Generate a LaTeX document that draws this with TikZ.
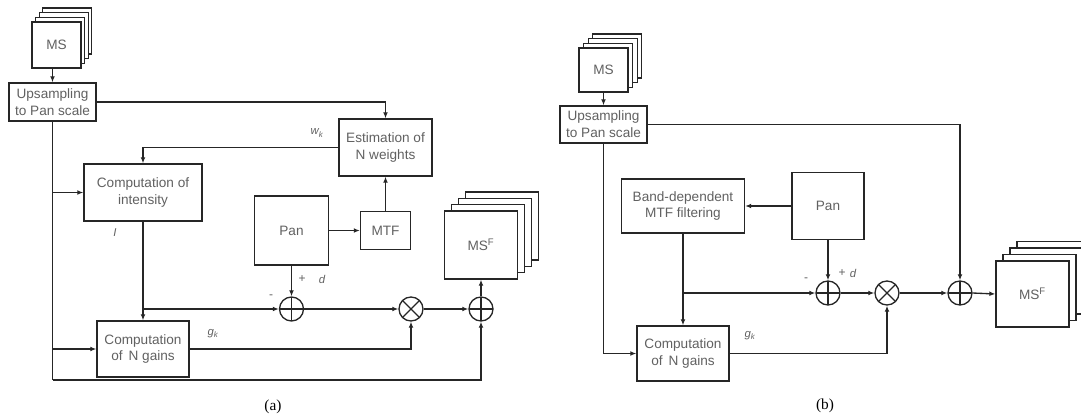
\documentclass[tikz,border=0pt]{standalone}
\usepackage{fontspec}
\setmainfont{Liberation Sans}
\newfontfamily\capfont{Liberation Serif}
\usetikzlibrary{arrows.meta}
\begin{document}
\begin{tikzpicture}[x=0.75pt,y=-0.75pt,
  line/.style={draw=black!85, line width=1pt},
  arr/.style={line, -{Latex[length=4.5pt,width=3.6pt]}},
  box/.style={draw=black!85, line width=1pt, fill=white, inner sep=0pt, align=center,
    text=black!62, font=\fontsize{10.2}{12.6}\selectfont},
  wh/.style 2 args={minimum width=#1*0.75pt, minimum height=#2*0.75pt},
  sum/.style={circle, draw=black!85, line width=1pt, minimum size=18pt, inner sep=0pt,
    path picture={\draw[line width=1pt, black!85]
      (path picture bounding box.north) -- (path picture bounding box.south)
      (path picture bounding box.west) -- (path picture bounding box.east);}},
  mul/.style={circle, draw=black!85, line width=1pt, minimum size=18pt, inner sep=0pt,
    path picture={\draw[line width=1pt, black!85]
      (path picture bounding box.north west) -- (path picture bounding box.south east)
      (path picture bounding box.north east) -- (path picture bounding box.south west);}},
  lbl/.style={text=black!62, font=\fontsize{8.5}{10}\selectfont\itshape, inner sep=0pt},
  captxt/.style={text=black, font=\capfont\fontsize{11.5}{13}\selectfont, inner sep=0pt}
]
\useasboundingbox (0,0) rectangle (1081,418);

% ================= (a) =================
\foreach \k in {3,2,1}
  \node[box, wh={49}{46}] (msa\k) at (56.5+3.6*\k, 45-4.7*\k) {};
\node[box, wh={49}{46}] (msa) at (56.5,45) {MS};
\node[box, wh={87}{38}] (upa) at (52.5,102) {Upsampling\\to Pan scale};
\node[box, wh={93}{57}] (est) at (385.5,147.5) {Estimation of\\N weights};
\node[box, wh={118}{57}] (int) at (143,192.5) {Computation of\\intensity};
\node[box, wh={74}{69}] (pana) at (291.5,230.5) {Pan};
\node[box, wh={50}{38}] (mtf) at (385.5,230.5) {MTF};
\node[box, wh={92}{56}] (gna) at (143,349) {Computation\\of\, N gains};
\node[sum] (add1a) at (291.5,309) {};
\node[mul] (mula) at (411,309) {};
\node[sum] (add3a) at (481,309) {};
\foreach \k in {3,2,1}
  \node[box, wh={73}{68}] (msfa\k) at (481+7*\k, 245-6.3*\k) {};
\node[box, wh={73}{68}] (msfa) at (481,245) {MS\textsuperscript{F}};

\coordinate (bla) at (52.5,380);
\draw[arr] (msa.south -| upa.north) -- (upa.north);
\draw[arr] (upa.east) -| (est.north);
\draw[arr] (est.west) -| (int.north);
\draw[line] (upa.south) -- (bla);
\draw[arr] (bla) -| (add3a.south);
\draw[arr] (upa.south |- int.west) -- (int.west);
\draw[arr] (upa.south |- gna.west) -- (gna.west);
\draw[arr] (int.south) -- (gna.north);
\coordinate (ja) at (int.south |- add1a.west);
\draw[arr] (ja) -- (add1a.west);
\draw[arr] (pana.south) -- (add1a.north);
\draw[arr] (pana.east) -- (mtf.west);
\draw[arr] (mtf.north) -- (est.south);
\draw[arr] (add1a.east) -- (mula.west);
\draw[arr] (mula.east) -- (add3a.west);
\draw[arr] (add3a.north) -- (msfa.south);
\draw[arr] (gna.east) -| (mula.south);

\node[lbl] (wk) at (317,133) {w\textsubscript{k}};
\node[lbl] (Ia) at (115,233) {I};
\node[lbl, font=\fontsize{9}{10}\selectfont] (ma) at (271,297) {-};
\node[lbl, font=\fontsize{9}{10}\selectfont] (pa) at (302,279) {+};
\node[lbl] (da) at (322,279) {d};
\node[lbl] (gka) at (213,334) {g\textsubscript{k}};
\node[captxt] (capa) at (273,407) {(a)};

% ================= (b) =================
\foreach \k in {3,2,1}
  \node[box, wh={49}{44}] (msb\k) at (603.5+4.6*\k, 70-4.7*\k) {};
\node[box, wh={49}{44}] (msb) at (603.5,70) {MS};
\node[box, wh={87}{37}] (upb) at (603.5,124.5) {Upsampling\\to Pan scale};
\node[box, wh={123}{54}] (band) at (683,206) {Band-dependent\\MTF filtering};
\node[box, wh={72}{67}] (panb) at (828,206) {Pan};
\node[box, wh={92}{55}] (gnb) at (683,353.5) {Computation\\of\, N gains};
\node[sum] (add1b) at (828,293) {};
\node[mul] (mulb) at (887,293) {};
\node[sum] (add3b) at (960,293) {};
\foreach \k in {3,2,1}
  \node[box, wh={73}{66}] (msfb\k) at (1032.5+7*\k, 294-6.5*\k) {};
\node[box, wh={73}{66}] (msfb) at (1032.5,294) {MS\textsuperscript{F}};

\draw[arr] (msb.south) -- (upb.north);
\draw[arr] (upb.east) -| (add3b.north);
\draw[arr] (upb.south) |- (gnb.west);
\draw[arr] (panb.west) -- (band.east);
\draw[arr] (panb.south) -- (add1b.north);
\draw[arr] (band.south) -- (gnb.north);
\coordinate (jb) at (band.south |- add1b.west);
\draw[arr] (jb) -- (add1b.west);
\draw[arr] (add1b.east) -- (mulb.west);
\draw[arr] (mulb.east) -- (add3b.west);
\draw[arr] (add3b.east) -- (msfb.west);
\draw[arr] (gnb.east) -| (mulb.south);

\node[lbl, font=\fontsize{9}{10}\selectfont] (mb) at (806,280) {-};
\node[lbl, font=\fontsize{9}{10}\selectfont] (pb) at (842,273) {+};
\node[lbl] (db) at (853,273) {d};
\node[lbl] (gkb) at (750,336) {g\textsubscript{k}};
\node[captxt] (capb) at (825,406) {(b)};
\end{tikzpicture}
\end{document}
